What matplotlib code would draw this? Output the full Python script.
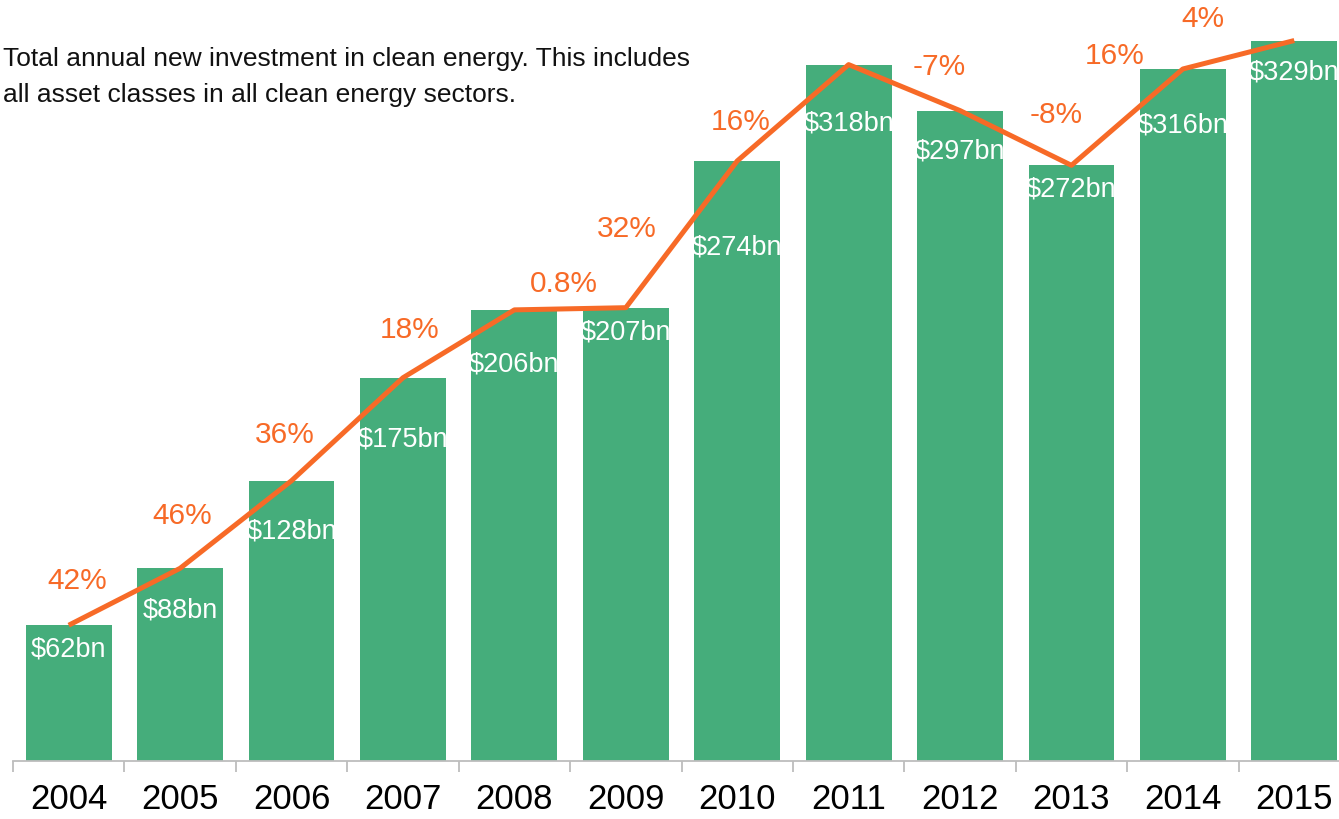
import matplotlib
matplotlib.use("Agg")
import matplotlib.pyplot as plt
import numpy as np

years = ["2004", "2005", "2006", "2007", "2008", "2009", "2010", "2011", "2012", "2013", "2014", "2015"]
investment = [62, 88, 128, 175, 206, 207, 274, 318, 297, 272, 316, 329]
bar_labels = ["$62bn", "$88bn", "$128bn", "$175bn", "$206bn", "$207bn", "$274bn",
              "$318bn", "$297bn", "$272bn", "$316bn", "$329bn"]
# how far below the bar top each value label sits (pixels)
bar_label_drop = [24, 42, 51, 62, 55, 25, 87, 59, 41, 24, 57, 32]
growth_labels = ["42%", "46%", "36%", "18%", "0.8%", "32%", "16%", "-7%", "-8%", "16%", "4%"]
# label anchor positions (category index, value units)
growth_x = [0.08, 1.02, 1.94, 3.06, 4.44, 5.01, 6.03, 7.81, 8.86, 9.39, 10.18]
growth_y = [82, 112, 149, 197, 218, 243, 292, 317, 295, 322, 339]

title = "Total annual new investment in clean energy. This includes\nall asset classes in all clean energy sectors."

GREEN = "#45AD7B"
ORANGE = "#F76A27"
FONT = ["Liberation Sans", "DejaVu Sans"]
plt.rcParams["font.family"] = FONT

fig = plt.figure(figsize=(13.39, 8.19), dpi=100)
W, H = 1339, 819
ax = fig.add_axes([13 / W, 58 / H, 1337 / W, 761 / H])
x = np.arange(len(years))
ax.bar(x, investment, width=0.77, color=GREEN, zorder=2)
ax.plot(x, investment, color=ORANGE, lw=3.6, zorder=3, solid_capstyle="butt")

for xi, v, lab, d in zip(x, investment, bar_labels, bar_label_drop):
    ax.annotate(lab, (xi, v), xytext=(0, -d * 0.72), textcoords="offset points",
                ha="center", va="center", color="white", fontsize=19.5, zorder=4,
                annotation_clip=False)

for gx, gy, lab in zip(growth_x, growth_y, growth_labels):
    ax.text(gx, gy, lab, ha="center", va="center", color=ORANGE, fontsize=21.5, zorder=4)

ax.set_xlim(-0.5, len(years) - 0.5)
ax.set_ylim(0, 347.5)
for s in ["top", "right", "left"]:
    ax.spines[s].set_visible(False)
ax.spines["bottom"].set_color("#BDBDBD")
ax.spines["bottom"].set_linewidth(1.3)
ax.set_yticks([])
ax.set_xticks(x)
ax.set_xticklabels(years, fontsize=25, color="black")
ax.tick_params(axis="x", which="major", length=0, pad=16)
ax.set_xticks(np.arange(len(years) + 1) - 0.5, minor=True)
ax.tick_params(axis="x", which="minor", length=8, color="#BDBDBD", width=1.3)

fig.text(3 / W, 1 - 47 / H, title, ha="left", va="top", fontsize=19,
         color="#111111", linespacing=1.62)

fig.savefig("out.png", dpi=100)
